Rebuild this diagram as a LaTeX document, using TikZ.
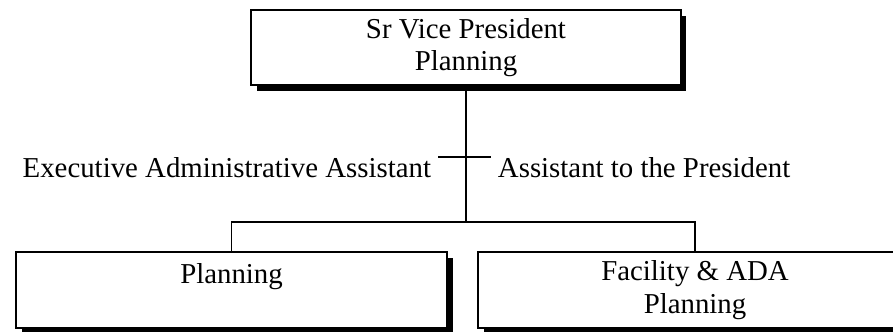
\documentclass[tikz,border=0pt]{standalone}
\usepackage{fontspec}
\setmainfont{Liberation Serif}
\usetikzlibrary{shadows}
\tikzset{
  orgbox/.style={draw, rectangle, fill=white, line width=1.4pt, align=center,
    inner sep=0pt, drop shadow={shadow xshift=0.14cm, shadow yshift=-0.16cm, fill=black, opacity=1}},
  aside/.style={inner xsep=0.15cm, inner ysep=0pt}
}
\begin{document}
\begin{tikzpicture}[x=0.025cm, y=-0.025cm, line width=1.4pt,
  font=\fontsize{20.5}{23}\selectfont]
		\useasboundingbox (0,0) rectangle (893,331);
		\node (box1) [orgbox, minimum width=10.725cm, minimum height=1.875cm] at (466,47.5) {Sr Vice President\\Planning};
		\node (box2) [orgbox, minimum width=10.775cm, minimum height=1.9cm] at (231.5,290) {Planning\\~};
		\node (box3) [orgbox, minimum width=10.85cm, minimum height=1.9cm] at (695,290) {Facility \& ADA\\Planning};
		\coordinate (hub) at (466,222);
		\coordinate (tickL) at (438,157);
		\coordinate (tickR) at (491,157);
		\node (asst1) [aside, anchor=north east] at (tickL) {Executive Administrative Assistant};
		\node (asst2) [aside, anchor=north west] at (tickR) {Assistant to the President};

		% Lines
		\draw (box1.south) -- (hub);
		\draw (tickL) -- (tickR);
		\draw (box2.north) |- (hub);
		\draw (hub) -| (box3.north);
	\end{tikzpicture}
\end{document}
